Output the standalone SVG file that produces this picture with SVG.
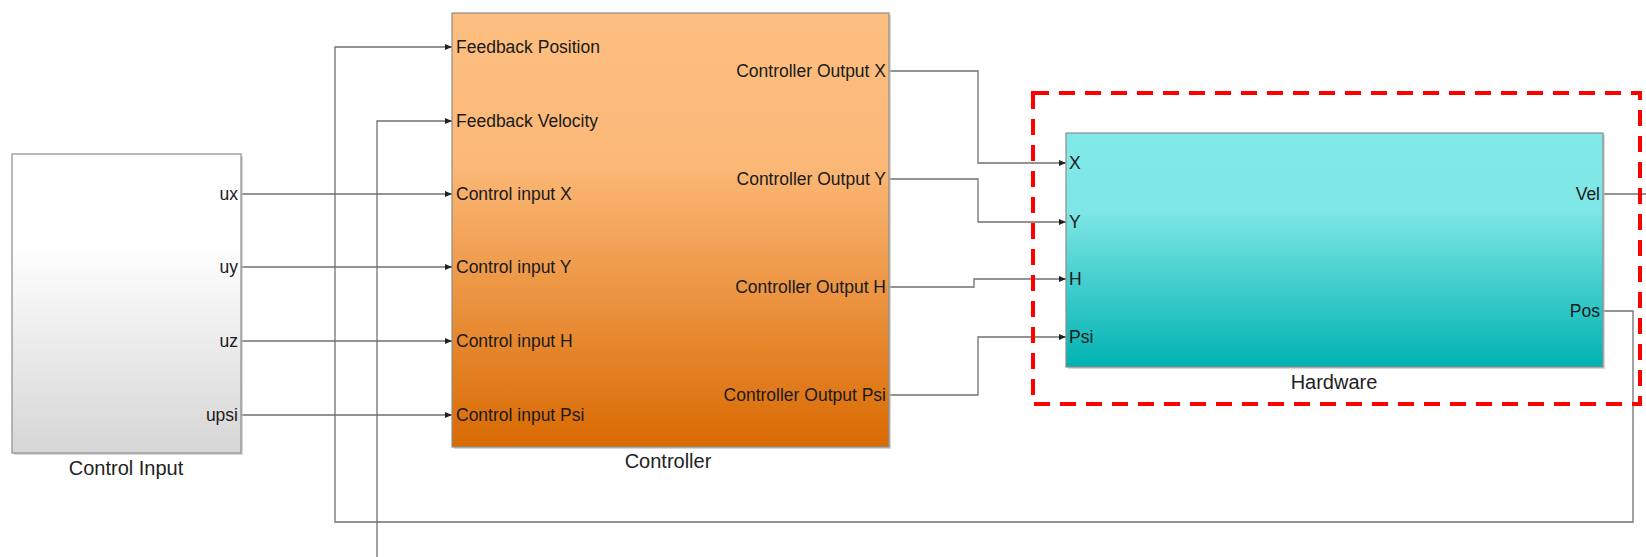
<svg xmlns="http://www.w3.org/2000/svg" width="1646" height="557" viewBox="0 0 1646 557">
<style>
.blk{stroke:#8c8c8c;stroke-width:1.2}
.shadow{fill:#bdbdbd;opacity:0.6}
.port{font-family:"Liberation Sans",Arial,sans-serif;font-size:17.5px;fill:#1a1a1a}
.lbl{font-family:"Liberation Sans",Arial,sans-serif;font-size:20px;fill:#222;text-anchor:middle}
.end{text-anchor:end}
.wire{fill:none;stroke:#707070;stroke-width:1.3}
</style>
<defs>
<marker id="arr" markerUnits="userSpaceOnUse" markerWidth="8" markerHeight="8" refX="7" refY="3.5" orient="auto">
<path d="M0,0.5 L7,3.5 L0,6.5 z" fill="#222"/>
</marker>
<linearGradient id="gGray" x1="0" y1="0" x2="0" y2="1">
<stop offset="0" stop-color="#ffffff"/>
<stop offset="0.3" stop-color="#ffffff"/>
<stop offset="1" stop-color="#d6d6d6"/>
</linearGradient>
<linearGradient id="gOrange" x1="0" y1="0" x2="0" y2="1">
<stop offset="0" stop-color="#fdbf81"/>
<stop offset="0.35" stop-color="#fbb877"/>
<stop offset="1" stop-color="#d96a02"/>
</linearGradient>
<linearGradient id="gCyan" x1="0" y1="0" x2="0" y2="1">
<stop offset="0" stop-color="#82e9e9"/>
<stop offset="0.33" stop-color="#7fe6e6"/>
<stop offset="1" stop-color="#00b2b2"/>
</linearGradient>
</defs>
<rect width="1646" height="557" fill="#ffffff"/>

<g id="connectors">
<polyline class="wire" points="241,194 452,194" marker-end="url(#arr)"/>
<polyline class="wire" points="241,267 452,267" marker-end="url(#arr)"/>
<polyline class="wire" points="241,341 452,341" marker-end="url(#arr)"/>
<polyline class="wire" points="241,415 452,415" marker-end="url(#arr)"/>
<polyline class="wire" points="889,71 978,71 978,163 1066,163" marker-end="url(#arr)"/>
<polyline class="wire" points="889,179 978,179 978,222 1066,222" marker-end="url(#arr)"/>
<polyline class="wire" points="889,287 974,287 974,279 1066,279" marker-end="url(#arr)"/>
<polyline class="wire" points="889,395 978,395 978,337 1066,337" marker-end="url(#arr)"/>
<polyline class="wire" points="1603,194 1646,194"/>
<polyline class="wire" points="1603,311 1633,311 1633,522 335,522 335,47 452,47" marker-end="url(#arr)"/>
<polyline class="wire" points="377,557 377,121 452,121" marker-end="url(#arr)"/>
</g>

<g id="control-input">
<rect class="shadow" x="14" y="156" width="229" height="299"/>
<rect class="blk" x="12" y="154" width="229" height="299" fill="url(#gGray)"/>
<text class="port end" x="238" y="200">ux</text>
<text class="port end" x="238" y="273">uy</text>
<text class="port end" x="238" y="347">uz</text>
<text class="port end" x="238" y="421">upsi</text>
<text class="lbl" x="126" y="475">Control Input</text>
</g>

<g id="controller">
<rect class="shadow" x="454" y="15" width="437" height="434"/>
<rect class="blk" x="452" y="13" width="437" height="434" fill="url(#gOrange)"/>
<text class="port" x="456" y="53">Feedback Position</text>
<text class="port" x="456" y="127">Feedback Velocity</text>
<text class="port" x="456" y="200">Control input X</text>
<text class="port" x="456" y="273">Control input Y</text>
<text class="port" x="456" y="347">Control input H</text>
<text class="port" x="456" y="421">Control input Psi</text>
<text class="port end" x="886" y="77">Controller Output X</text>
<text class="port end" x="886" y="185">Controller Output Y</text>
<text class="port end" x="886" y="293">Controller Output H</text>
<text class="port end" x="886" y="401">Controller Output Psi</text>
<text class="lbl" x="668" y="468">Controller</text>
</g>

<g id="hardware">
<rect class="shadow" x="1068" y="135" width="537" height="234"/>
<rect class="blk" x="1066" y="133" width="537" height="234" fill="url(#gCyan)"/>
<text class="port" x="1069" y="169">X</text>
<text class="port" x="1069" y="228">Y</text>
<text class="port" x="1069" y="285">H</text>
<text class="port" x="1069" y="343">Psi</text>
<text class="port end" x="1600" y="200">Vel</text>
<text class="port end" x="1600" y="317">Pos</text>
<text class="lbl" x="1334" y="389">Hardware</text>
</g>

<g id="hardware-highlight">
<rect x="1033" y="93" width="607" height="311" fill="none" stroke="#ff0000" stroke-width="4" stroke-dasharray="16 10"/>
</g>
</svg>
